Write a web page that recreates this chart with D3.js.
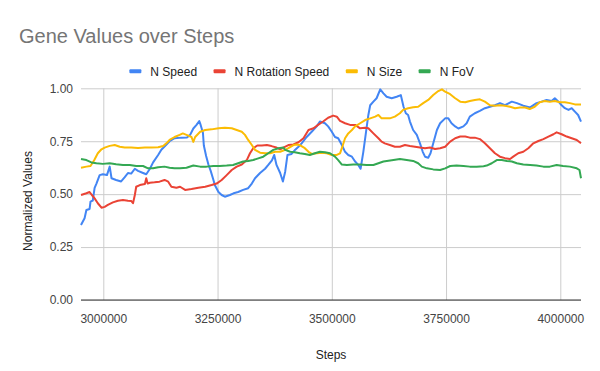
<!DOCTYPE html>
<html><head><meta charset="utf-8">
<script src="https://cdn.jsdelivr.net/npm/d3@7"></script>
<style>body{margin:0;background:#fff}svg{display:block}text{font-family:"Liberation Sans",Arial,sans-serif}</style>
</head><body><svg id="c" width="600" height="371"></svg>
<script>
const seriesNames = ["N Speed", "N Rotation Speed", "N Size", "N FoV"];
const seriesColors = ["#4285F4", "#EA4335", "#FBBC04", "#34A853"];
const xTickValues = [3000000, 3250000, 3500000, 3750000, 4000000];
const yTickValues = [0, 0.25, 0.5, 0.75, 1];

const speedSteps = [
2951200,2959000,2963000,2970000,2972000,2977000,2981000,2985000,2992000,2999000,
3008000,3014000,3018000,3028000,3039000,3047000,3054000,3061000,3069000,3076000,
3087000,3094000,3102000,3109000,3120000,3127000,3134000,3145000,3156000,3171000,
3183000,3190000,3197000,3204000,3210000,3213000,3218000,3220000,3225000,3230000,
3235000,3241000,3244000,3252000,3259000,3266000,3277000,3285000,3295000,3306000,
3317000,3325000,3332000,3343000,3354000,3361000,3369000,3374000,3379000,3387000,
3393000,3398000,3403000,3412000,3420000,3427000,3434000,3445000,3456000,3467000,
3474000,3485000,3492000,3500000,3507000,3514000,3522000,3529000,3536000,3544000,
3551000,3558000,3563000,3569000,3575000,3580000,3584000,3591000,3598000,3606000,
3613000,3620000,3631000,3642000,3651000,3657000,3662000,3667000,3671000,3678000,
3686000,3693000,3699000,3704000,3711000,3716000,3722000,3730000,3737000,3748000,
3755000,3762000,3770000,3777000,3788000,3795000,3802000,3813000,3824000,3835000,
3846000,3857000,3868000,3879000,3894000,3905000,3919000,3934000,3948000,3959000,
3970000,3981000,3988000,3996000,4003000,4010000,4018000,4025000,4032000,4039000,
4045300];
const speedValues = [
0.354,0.386,0.425,0.43,0.465,0.47,0.53,0.55,0.59,0.594,
0.59,0.63,0.575,0.567,0.56,0.58,0.60,0.597,0.62,0.61,
0.60,0.594,0.62,0.65,0.685,0.71,0.725,0.75,0.764,0.767,
0.768,0.78,0.81,0.827,0.845,0.827,0.79,0.73,0.68,0.64,
0.61,0.567,0.543,0.51,0.496,0.488,0.496,0.504,0.51,0.52,
0.528,0.55,0.575,0.60,0.62,0.638,0.66,0.685,0.638,0.60,
0.56,0.606,0.685,0.69,0.71,0.724,0.74,0.77,0.795,0.82,
0.843,0.835,0.82,0.795,0.77,0.764,0.732,0.70,0.685,0.677,
0.654,0.638,0.62,0.70,0.795,0.874,0.92,0.937,0.953,0.995,
0.976,0.96,0.953,0.96,0.968,0.913,0.882,0.874,0.843,0.803,
0.78,0.74,0.70,0.677,0.672,0.693,0.74,0.803,0.835,0.858,
0.858,0.835,0.82,0.81,0.82,0.835,0.866,0.882,0.893,0.906,
0.913,0.92,0.93,0.92,0.937,0.93,0.918,0.91,0.93,0.937,
0.945,0.94,0.953,0.937,0.92,0.906,0.898,0.906,0.89,0.874,
0.843];

const rotSteps = [
2951200,2963000,2970000,2975000,2981000,2988000,2996000,3003000,3010000,3021000,
3032000,3043000,3054000,3061000,3065000,3069000,3072000,3080000,3091000,3094000,
3097000,3102000,3112000,3123000,3134000,3142000,3149000,3160000,3168000,3179000,
3193000,3208000,3223000,3237000,3248000,3259000,3270000,3281000,3292000,3303000,
3314000,3321000,3328000,3337000,3347000,3358000,3368000,3379000,3387000,3394000,
3405000,3416000,3427000,3438000,3449000,3460000,3470000,3481000,3492000,3503000,
3511000,3518000,3529000,3540000,3551000,3562000,3573000,3580000,3591000,3602000,
3609000,3616000,3627000,3638000,3649000,3660000,3671000,3682000,3693000,3704000,
3715000,3726000,3737000,3748000,3759000,3770000,3781000,3792000,3802000,3813000,
3824000,3835000,3846000,3857000,3868000,3879000,3890000,3897000,3908000,3919000,
3930000,3941000,3952000,3963000,3974000,3985000,3992000,4003000,4014000,4025000,
4036000,4045300];
const rotValues = [
0.496,0.504,0.51,0.496,0.48,0.457,0.436,0.44,0.449,0.461,
0.469,0.472,0.469,0.468,0.457,0.496,0.535,0.543,0.548,0.575,
0.55,0.554,0.556,0.559,0.567,0.559,0.535,0.53,0.535,0.52,
0.524,0.53,0.535,0.543,0.55,0.567,0.59,0.614,0.63,0.64,
0.661,0.693,0.717,0.73,0.73,0.732,0.727,0.72,0.712,0.72,
0.732,0.735,0.745,0.764,0.803,0.811,0.827,0.843,0.861,0.871,
0.866,0.846,0.835,0.827,0.827,0.811,0.814,0.811,0.787,0.764,
0.748,0.74,0.732,0.724,0.724,0.732,0.727,0.724,0.72,0.717,
0.72,0.713,0.717,0.724,0.748,0.764,0.772,0.772,0.767,0.767,
0.76,0.74,0.717,0.693,0.677,0.67,0.666,0.677,0.693,0.70,
0.717,0.74,0.751,0.76,0.772,0.783,0.792,0.783,0.772,0.764,
0.756,0.74];

const sizeSteps = [
2951200,2963000,2972000,2980000,2988000,2996000,3003000,3014000,3025000,3036000,
3047000,3061000,3076000,3091000,3105000,3120000,3131000,3138000,3145000,3156000,
3167000,3174000,3182000,3193000,3197000,3201000,3212000,3223000,3237000,3252000,
3266000,3281000,3292000,3303000,3310000,3317000,3325000,3332000,3343000,3354000,
3365000,3376000,3387000,3398000,3405000,3416000,3423000,3430000,3441000,3449000,
3456000,3467000,3478000,3489000,3500000,3511000,3518000,3522000,3529000,3536000,
3544000,3551000,3562000,3573000,3584000,3595000,3602000,3609000,3616000,3627000,
3638000,3649000,3656000,3667000,3678000,3689000,3700000,3711000,3722000,3733000,
3741000,3748000,3759000,3770000,3781000,3792000,3802000,3813000,3824000,3835000,
3846000,3857000,3868000,3879000,3890000,3901000,3912000,3923000,3933000,3944000,
3955000,3966000,3977000,3988000,3999000,4010000,4021000,4032000,4045300];
const sizeValues = [
0.625,0.63,0.633,0.66,0.693,0.712,0.72,0.728,0.732,0.724,
0.72,0.72,0.718,0.72,0.72,0.722,0.727,0.74,0.756,0.77,
0.78,0.787,0.78,0.77,0.747,0.77,0.795,0.803,0.806,0.811,
0.814,0.811,0.803,0.795,0.78,0.756,0.732,0.709,0.696,0.693,
0.693,0.70,0.70,0.709,0.717,0.732,0.735,0.732,0.717,0.70,
0.69,0.693,0.696,0.693,0.685,0.685,0.693,0.717,0.764,0.787,
0.803,0.82,0.835,0.85,0.858,0.866,0.874,0.858,0.858,0.858,
0.866,0.882,0.898,0.906,0.91,0.913,0.93,0.945,0.968,0.987,
0.995,0.984,0.972,0.953,0.937,0.934,0.94,0.945,0.948,0.937,
0.92,0.918,0.92,0.918,0.913,0.906,0.909,0.909,0.902,0.913,
0.934,0.94,0.937,0.94,0.934,0.934,0.93,0.924,0.924];

const fovSteps = [
2951200,2963000,2974000,2985000,2999000,3014000,3028000,3043000,3058000,3072000,
3087000,3098000,3109000,3120000,3134000,3145000,3156000,3168000,3182000,3197000,
3212000,3226000,3241000,3255000,3270000,3284000,3295000,3306000,3317000,3328000,
3339000,3350000,3361000,3372000,3383000,3394000,3398000,3409000,3419000,3430000,
3441000,3452000,3463000,3474000,3485000,3496000,3507000,3514000,3522000,3533000,
3547000,3562000,3576000,3591000,3602000,3613000,3635000,3649000,3664000,3678000,
3689000,3697000,3708000,3722000,3737000,3748000,3759000,3773000,3788000,3802000,
3817000,3832000,3839000,3850000,3861000,3872000,3883000,3894000,3905000,3919000,
3934000,3948000,3963000,3977000,3992000,4006000,4021000,4036000,4042000,4045300];
const fovValues = [
0.666,0.661,0.65,0.646,0.643,0.646,0.641,0.638,0.638,0.633,
0.633,0.622,0.622,0.627,0.63,0.625,0.622,0.622,0.625,0.635,
0.63,0.63,0.633,0.633,0.635,0.638,0.646,0.654,0.657,0.661,
0.669,0.677,0.693,0.709,0.717,0.72,0.709,0.70,0.698,0.693,
0.69,0.685,0.693,0.70,0.698,0.693,0.677,0.661,0.64,0.638,
0.64,0.64,0.638,0.638,0.646,0.654,0.661,0.666,0.661,0.657,
0.646,0.63,0.622,0.617,0.614,0.622,0.633,0.635,0.633,0.63,
0.63,0.632,0.635,0.646,0.661,0.661,0.657,0.654,0.646,0.64,
0.638,0.635,0.63,0.63,0.638,0.633,0.63,0.622,0.614,0.575];

const seriesSteps = [speedSteps, rotSteps, sizeSteps, fovSteps];
const seriesValues = [speedValues, rotValues, sizeValues, fovValues];

const svg = d3.select("#c");
const L = 81, R = 581, T = 88.3, B = 300;
const allSteps = [].concat(...seriesSteps);
const x = d3.scaleLinear().domain(d3.extent(allSteps)).range([L, R]);
const y = d3.scaleLinear().domain([0, 1]).range([B, T]);

// Title
svg.append("text").attr("x", 19).attr("y", 43).attr("font-size", 20).attr("fill", "#757575")
  .text("Gene Values over Steps");

// Y grid/axis
const gy = svg.append("g").attr("transform", `translate(${L},0)`)
  .call(d3.axisLeft(y).tickValues(yTickValues).tickFormat(d3.format(".2f")).tickSize(-(R - L)).tickPadding(8));
gy.select(".domain").remove();
gy.selectAll(".tick line").attr("stroke", "#cccccc").attr("stroke-width", 1);
gy.selectAll(".tick text").attr("font-size", 12).attr("fill", "#444").attr("font-family", '"Liberation Sans",Arial,sans-serif');

// X grid/axis
const gx = svg.append("g").attr("transform", `translate(0,${B})`)
  .call(d3.axisBottom(x).tickValues(xTickValues).tickFormat(d3.format("d")).tickSize(-(B - T)).tickPadding(14));
gx.select(".domain").remove();
gx.selectAll(".tick line").attr("stroke", "#cccccc").attr("stroke-width", 1);
gx.selectAll(".tick text").attr("font-size", 12).attr("fill", "#444").attr("font-family", '"Liberation Sans",Arial,sans-serif');

// baseline
svg.append("line").attr("x1", L).attr("x2", R).attr("y1", y(0)).attr("y2", y(0))
  .attr("stroke", "#333").attr("stroke-width", 1);

// Lines
const line = d3.line().x(d => x(d[0])).y(d => y(d[1]));
seriesNames.forEach((name, i) => {
  const st = seriesSteps[i], vs = seriesValues[i];
  const n = Math.min(st.length, vs.length);
  const pts = d3.range(n).map(k => [st[k], vs[k]]);
  svg.append("path").datum(pts).attr("d", line).attr("fill", "none")
    .attr("stroke", seriesColors[i]).attr("stroke-width", 2).attr("stroke-linejoin", "round");
});

// Axis titles
svg.append("text").attr("x", (L + R) / 2).attr("y", 358.5).attr("text-anchor", "middle")
  .attr("font-size", 12).attr("fill", "#222").text("Steps");
svg.append("text").attr("transform", "translate(31.5,201) rotate(-90)").attr("text-anchor", "middle")
  .attr("font-size", 12).attr("fill", "#222").text("Normalized Values");

// Legend
const lg = svg.append("g");
const items = seriesNames.map((name, i) => {
  const g = lg.append("g");
  g.append("rect").attr("x", 0).attr("y", -2).attr("width", 12).attr("height", 4).attr("rx", 1)
    .attr("fill", seriesColors[i]);
  const t = g.append("text").attr("x", 21).attr("y", 4.3).attr("font-size", 12).attr("fill", "#222").text(name);
  return { g, w: 21 + t.node().getComputedTextLength() };
});
const gap = 16.5;
const total = d3.sum(items, d => d.w) + gap * (items.length - 1);
let cx = 301.5 - total / 2;
items.forEach(it => { it.g.attr("transform", `translate(${cx},71.2)`); cx += it.w + gap; });
</script></body></html>
